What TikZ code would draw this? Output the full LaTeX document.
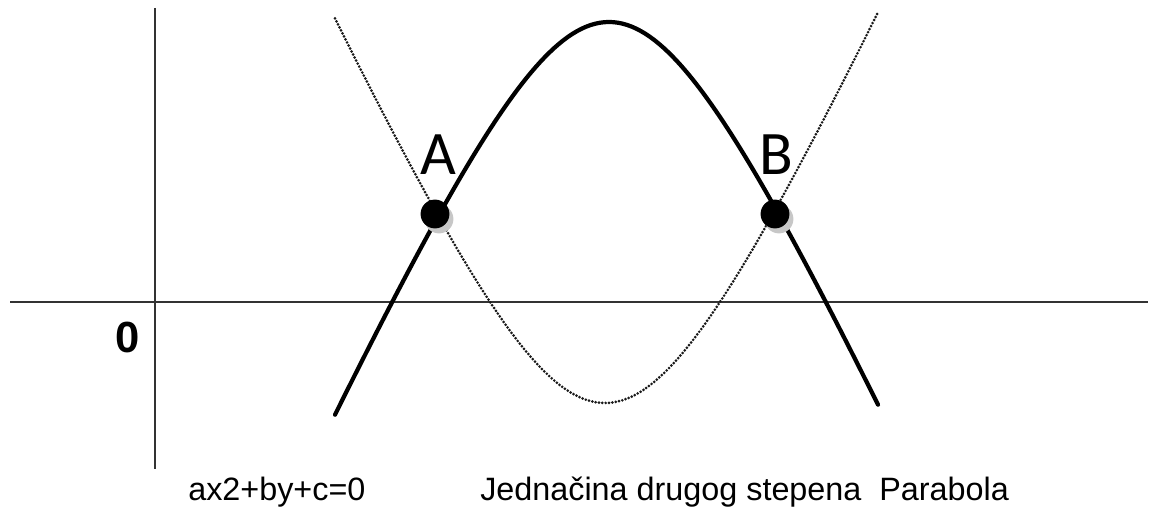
\documentclass[tikz,border=0pt]{standalone}
\usepackage{fontspec}
\setmainfont{Liberation Sans}
\newfontfamily\ptfont{Carlito}
\usetikzlibrary{positioning}

\begin{document}
\begin{tikzpicture}[
    x=0.025cm, y=-0.025cm,
    axisline/.style={draw=black!80, line width=1.4pt},
    curvesolid/.style={draw=black, line width=3pt, line cap=round},
    curvedotted/.style={draw=black!90, line width=2.1pt, line cap=round,
      dash pattern=on 0pt off 2.4pt},
    ptdot/.style={circle, fill=black, minimum size=20.5pt, inner sep=0pt},
    ptshadow/.style={circle, fill=black!22, minimum size=20.5pt, inner sep=0pt},
    ptlbl/.style={font=\ptfont\fontsize{44}{44}\selectfont, inner sep=0pt},
    captionlbl/.style={font=\fontsize{23}{23}\selectfont, anchor=base west, inner sep=0pt}
  ]
  \def\ca{1.21}
  \def\cs{220}
  \useasboundingbox (0,0) rectangle (1158,511);
  % axes
  \coordinate (xleft) at (10,302);
  \coordinate (xright) at (1148,302);
  \coordinate (ytop) at (155,8);
  \coordinate (ybottom) at (155,469);
  \draw[axisline] (xleft) -- (xright);
  \draw[axisline] (ytop) -- (ybottom);
  \node[font=\bfseries\fontsize{31}{31}\selectfont, inner sep=0pt] (zero) at (128,337) {0};
  % the two curves
  \draw[curvedotted] plot[domain=335:878, samples=120]
    (\x, {403-\cs*(sqrt(\ca*\ca+((\x-605)/100)^2)-\ca)});
  \draw[curvesolid] plot[domain=335:878, samples=120]
    (\x, {22+\cs*(sqrt(\ca*\ca+((\x-609)/100)^2)-\ca)});
  % intersection points
  \foreach \nm/\px/\lx in {A/435/438, B/775/776} {
    \node[ptshadow] (sh\nm) at (\px+4,219) {};
    \node[ptdot] (pt\nm) at (\px,214) {};
    \node[ptlbl] (lbl\nm) at (\lx,155) {\nm};
  }
  % captions
  \node[captionlbl] (eqlbl) at (188,500) {ax2+by+c=0};
  \node[captionlbl] (desclbl) at (480,500) {Jednačina drugog stepena\ \ Parabola};
\end{tikzpicture}
\end{document}
